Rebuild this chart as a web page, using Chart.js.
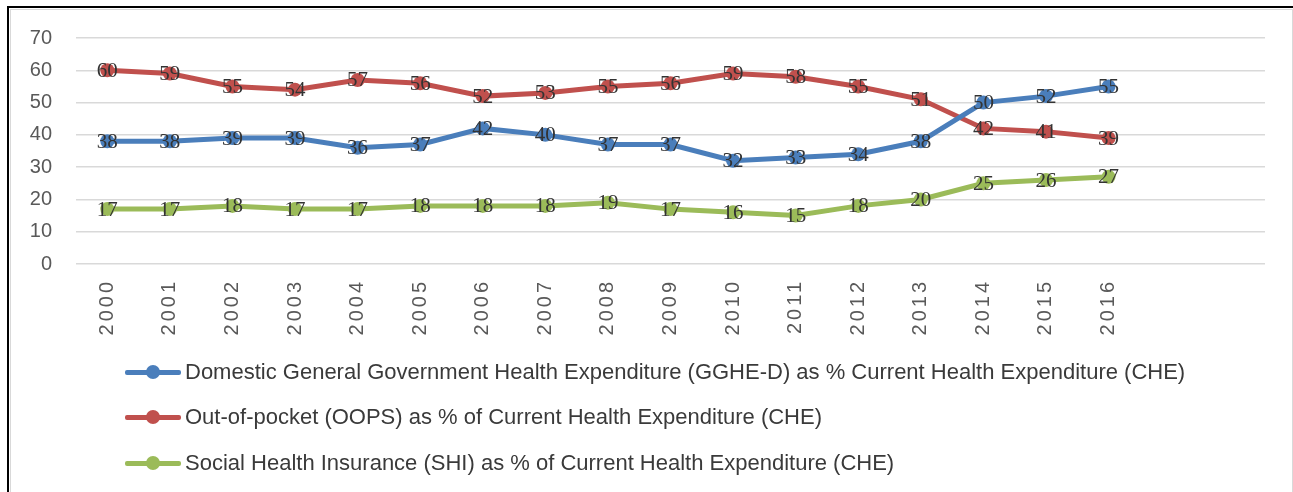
<!DOCTYPE html>
<html>
<head>
<meta charset="utf-8">
<script src="https://cdn.jsdelivr.net/npm/chart.js@4/dist/chart.umd.min.js"></script>
<style>
  html, body { margin: 0; padding: 0; background: #fff; }
  #wrap { position: relative; width: 1293px; height: 492px; overflow: hidden; }
  #outer { position: absolute; left: 7px; top: 6px; right: -10px; bottom: -10px;
           border-left: 2px solid #000; border-top: 2px solid #000; }
  #inner { position: absolute; left: 10px; top: 9px; width: 1281px; bottom: -10px;
           border-left: 1px solid #d9d9d9; border-top: 1px solid #d9d9d9; border-right: 1px solid #d9d9d9; }
  #myChart { position: absolute; left: 0; top: 0; }
  #legend { position: absolute; left: 125px; top: 0; }
  .item { position: absolute; left: 0; height: 26px; white-space: nowrap;
          font-family: "Liberation Sans", sans-serif; font-size: 22px; color: #3a3a3a; }
  .mark { position: absolute; left: 0; top: 11px; width: 56px; height: 5px; border-radius: 2px; }
  .mark i { position: absolute; left: 21px; top: -5px; width: 14px; height: 14px; border-radius: 50%; }
  .item span { position: absolute; left: 60px; top: 0; line-height: 26px; }
</style>
</head>
<body>
<div id="wrap">
  <div id="outer"></div>
  <div id="inner"></div>
  <canvas id="myChart" width="1293" height="492"></canvas>
  <div id="legend"></div>
</div>
<script>
var years = ['2000','2001','2002','2003','2004','2005','2006','2007','2008','2009','2010','2011','2012','2013','2014','2015','2016'];
var emptySlots = ['', ''];   // the sheet's axis runs two blank rows past 2016

var gghe = [38, 38, 39, 39, 36, 37, 42, 40, 37, 37, 32, 33, 34, 38, 50, 52, 55];
var oops = [60, 59, 55, 54, 57, 56, 52, 53, 55, 56, 59, 58, 55, 51, 42, 41, 39];
var shi  = [17, 17, 18, 17, 17, 18, 18, 18, 19, 17, 16, 15, 18, 20, 25, 26, 27];

var names = [
  'Domestic General Government Health Expenditure (GGHE-D) as % Current Health Expenditure (CHE)',
  'Out-of-pocket (OOPS) as % of Current Health Expenditure (CHE)',
  'Social Health Insurance (SHI) as % of Current Health Expenditure (CHE)'
];
var colors = ['#4a7ebb', '#c0504d', '#9bbb59'];
var yTicks = [0, 10, 20, 30, 40, 50, 60, 70];

function line(i, values) {
  return {
    label: names[i],
    data: values,
    borderColor: colors[i],
    backgroundColor: colors[i],
    borderWidth: 5,
    pointRadius: 7,
    pointBorderWidth: 0,
    tension: 0
  };
}

// values written on top of each point
var pointLabels = {
  id: 'pointLabels',
  afterDatasetsDraw: function(chart) {
    var ctx = chart.ctx;
    ctx.save();
    ctx.font = '21px "Liberation Serif", serif';
    ctx.fillStyle = '#333333';
    ctx.textAlign = 'center';
    ctx.textBaseline = 'middle';
    chart.data.datasets.forEach(function(ds, i) {
      chart.getDatasetMeta(i).data.forEach(function(pt, j) {
        ctx.fillText(ds.data[j], pt.x, pt.y + 1);
      });
    });
    ctx.restore();
  }
};

// the year labels are set wide in the sheet, spread the letters a bit
var spreadYears = {
  id: 'spreadYears',
  afterLayout: function(chart) {
    var s = chart.scales.x;
    if (s._spread) return;
    var orig = s.drawLabels;
    s.drawLabels = function(area) {
      chart.ctx.save();
      chart.ctx.letterSpacing = '3px';
      orig.call(this, area);
      chart.ctx.restore();
    };
    s._spread = true;
  }
};

var ctx = document.getElementById('myChart').getContext('2d');
var myChart = new Chart(ctx, {
  type: 'line',
  data: {
    labels: years.concat(emptySlots),
    datasets: [line(0, gghe), line(1, oops), line(2, shi)]
  },
  options: {
    responsive: false,
    animation: false,
    layout: { padding: { top: 38, right: 28, left: 0, bottom: 0 } },
    plugins: { legend: { display: false }, tooltip: { enabled: false } },
    scales: {
      x: {
        offset: true,
        grid: { display: false, drawTicks: false },
        border: { display: false },
        ticks: {
          autoSkip: false, minRotation: 90, maxRotation: 90, padding: 15,
          color: '#595959', font: { family: '"Liberation Sans", sans-serif', size: 20 }
        },
        afterFit: function(s) { s.height = 228; }
      },
      y: {
        min: 0, max: 70,
        afterBuildTicks: function(s) { s.ticks = yTicks.map(function(v) { return { value: v }; }); },
        grid: { color: '#d9d9d9', lineWidth: 1.5, drawTicks: false },
        border: { display: false },
        ticks: {
          padding: 24, color: '#595959',
          font: { family: '"Liberation Sans", sans-serif', size: 20 }
        },
        afterFit: function(s) { s.width = 76; }
      }
    }
  },
  plugins: [pointLabels, spreadYears]
});

// legend rows, stacked and left aligned as in the sheet
var rowTops = [359, 404, 450];
var legend = document.getElementById('legend');
myChart.data.datasets.forEach(function(ds, i) {
  var row = document.createElement('div');
  row.className = 'item';
  row.style.top = rowTops[i] + 'px';
  row.innerHTML = '<div class="mark" style="background:' + ds.borderColor + '"><i style="background:' +
    ds.borderColor + '"></i></div><span>' + ds.label + '</span>';
  legend.appendChild(row);
});
</script>
</body>
</html>
